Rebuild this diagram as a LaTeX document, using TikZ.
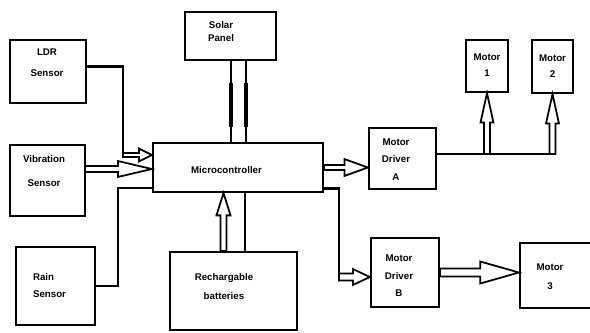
\documentclass[tikz,border=0pt]{standalone}
\usepackage{fontspec}
\setmainfont{Liberation Sans}
\usetikzlibrary{calc}
\tikzset{
  every picture/.style={line join=miter},
  blk/.style 2 args={draw, line width=1.9pt, minimum width=#1, minimum height=#2, inner sep=0pt},
  every label/.style={font=\bfseries\fontsize{8.3}{15}\selectfont, align=center, inner sep=0pt},
  wire/.style={line width=1.9pt},
  % hollow block arrow: shaft half width / head half width / head length (pt)
  hollow/.style n args={3}{line width=1.5pt, fill=white, to path={
    let \p1=(\tikztostart), \p2=(\tikztotarget),
        \n1={veclen(\x2-\x1,\y2-\y1)},
        \n2={(\x2-\x1)/\n1}, \n3={(\y2-\y1)/\n1}
    in ({\x1-\n3*#1},{\y1+\n2*#1})
    -- ({\x2-\n2*#3-\n3*#1},{\y2-\n3*#3+\n2*#1})
    -- ({\x2-\n2*#3-\n3*#2},{\y2-\n3*#3+\n2*#2})
    -- (\x2,\y2)
    -- ({\x2-\n2*#3+\n3*#2},{\y2-\n3*#3-\n2*#2})
    -- ({\x2-\n2*#3+\n3*#1},{\y2-\n3*#3-\n2*#1})
    -- ({\x1+\n3*#1},{\y1-\n2*#1}) -- cycle}},
}
\begin{document}
\begin{tikzpicture}[x=0.3mm, y=-0.3mm]
\clip (0,0) rectangle (590,332);
\fill[white] (0,0) rectangle (590,332);

% sensors
\node[blk={22.8mm}{18.9mm}, label={[shift={(-1,-9)}]center:{LDR\\[3pt]Sensor}}] (ldr) at (48,71.5) {};
\node[blk={22.5mm}{21.3mm}, label={[shift={(-3.5,-9.5)}]center:{Vibration\\[5.5pt]Sensor}}] (vib) at (47.5,180.5) {};
\node[blk={23.7mm}{23.4mm}, line width=2.3pt, label={[shift={(-6,-0.5)}, align=left]center:{Rain\\Sensor}}] (rain) at (55.5,286) {};

% power and controller
\node[blk={27.3mm}{14.4mm}, label={[shift={(-9.5,-4.5)}]center:{Solar\\[-4pt]Panel}}] (solar) at (230.5,36) {};
\node[blk={51mm}{14.7mm}, label={[shift={(-11.5,2.5)}]center:Microcontroller}] (mc) at (238,167.5) {};
\node[blk={38.1mm}{23.4mm}, label={[shift={(-9.5,-4.5)}]center:{Rechargable\\[1pt]batteries}}] (bat) at (233.5,291) {};

% drivers and motors
\node[blk={20.1mm}{18.3mm}, label={[shift={(-6.5,1)}]center:{Motor\\Driver\\A}}] (da) at (402.5,158.5) {};
\node[blk={20.4mm}{20.7mm}, label={[shift={(-6,3.5)}]center:{Motor\\Driver\\B}}] (db) at (405,272.5) {};
\node[blk={12.6mm}{15.6mm}, label={[shift={(0,-0.5)}]center:{Motor\\[-1.3pt]1}}] (m1) at (487,66) {};
\node[blk={12.3mm}{15.9mm}, label={center:{Motor\\[-1.3pt]2}}] (m2) at (552.5,66.5) {};
\node[blk={24mm}{19.5mm}, label={[shift={(-10,1)}]center:{Motor\\[1pt]3}}] (m3) at (560,275.5) {};

% bends
\coordinate (ldrin) at (123,155);
\coordinate (vibin) at (85,169);
\coordinate (rainin) at (118,188);
\coordinate (sola) at (231,83);
\coordinate (solb) at (246,83);
\coordinate (batA) at (223.5,252);
\coordinate (batB) at (245,252);
\coordinate (dbin) at (339,277);
\coordinate (mbus) at (552.5,154);

% inputs
\draw[wire] (ldr.east) ++(0,-5) -| (ldrin);
\draw[wire] (rain.east) -| (rainin) -- (rainin -| mc.west);
\draw[hollow={1.7}{5.5}{11}] (ldrin) to (ldrin -| mc.west);
\draw[hollow={2.6}{6.8}{29}] (vibin) to (vibin -| mc.west);

% power
\foreach \c in {sola,solb}{
  \draw[wire] (solar.south -| \c) -- (mc.north -| \c);
  \draw[line width=3pt] (\c) -- ++(0,44);
}
\draw[wire] (bat.north -| batB) -- (mc.south -| batB);
\draw[hollow={2.6}{6}{19}] (bat.north -| batA) to (mc.south -| batA);

% outputs
\draw[wire] (mc.east) ++(0,21) -| (dbin);
\draw[hollow={2.1}{7.2}{20}] (mc.east) to (mc.east -| da.west);
\draw[hollow={3}{6.8}{14.5}] (dbin) to (dbin -| db.west);
\draw[wire] (da.east) ++(0,-4.5) -- (mbus);
\foreach \m in {m1,m2}
  \draw[hollow={2.6}{5.5}{25}] (\m.south |- mbus) to (\m.south);
\draw[hollow={3.4}{9.4}{33}] (db.east) to (db.east -| m3.west);
\end{tikzpicture}
\end{document}
